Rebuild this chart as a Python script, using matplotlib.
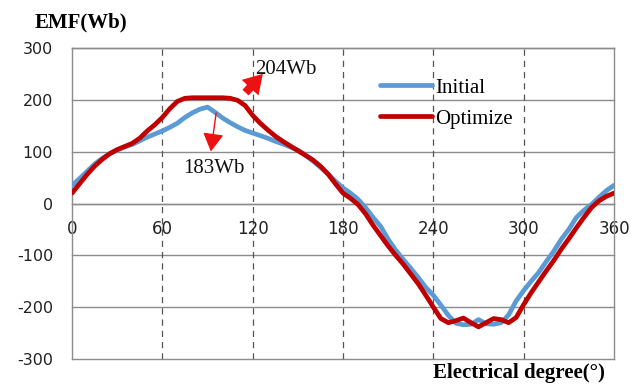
import matplotlib
matplotlib.use("Agg")
import matplotlib.pyplot as plt

plt.rcParams['axes.unicode_minus'] = False

# electrical degree (deg) and EMF (Wb)
degree = list(range(0, 361, 5))
initial = [35, 48, 62, 76, 87, 96, 103, 109, 114, 121, 128, 134, 140, 147, 155, 166,
           175, 182, 186, 176, 165, 156, 148, 141, 136, 131, 126, 120, 115, 109, 103,
           94, 82, 70, 57, 43, 30, 20, 8, -8, -27, -44, -69, -90, -108, -125, -143,
           -162, -177, -196, -216, -231, -234, -233, -224, -232, -233, -230, -215,
           -188, -168, -150, -133, -112, -92, -69, -50, -27, -13, -2, 12, 25, 35]
optimize = [20, 38, 56, 72, 85, 96, 104, 110, 116, 126, 140, 152, 166, 183, 197, 203,
            204, 204, 204, 204, 204, 203, 199, 189, 170, 155, 142, 130, 120, 111, 102,
            93, 84, 72, 57, 38, 20, 10, -2, -20, -42, -62, -82, -100, -117, -136, -155,
            -177, -200, -222, -230, -226, -221, -230, -238, -230, -222, -224, -230,
            -220, -195, -172, -151, -130, -110, -88, -68, -47, -27, -8, 5, 14, 20]

x_ticks = [0, 60, 120, 180, 240, 300, 360]
y_ticks = [-300, -200, -100, 0, 100, 200, 300]

fig = plt.figure(figsize=(6.41, 3.85), dpi=100)
ax = fig.add_axes([72 / 641, 26 / 385, 542 / 641, 311 / 385])

grid_gray = '#8c8c8c'
for y in y_ticks:
    ax.axhline(y, color=grid_gray, lw=1, zorder=1, clip_on=False)
for x in x_ticks[1:-1]:
    ax.axvline(x, color='#555555', lw=0.9, ls=(0, (5, 4)), zorder=1)

ax.plot(degree, initial, color='#5B9BD5', lw=3.4, label='Initial', zorder=3,
        solid_joinstyle='round', solid_capstyle='round')
ax.plot(degree, optimize, color='#C00000', lw=3.4, label='Optimize', zorder=4,
        solid_joinstyle='round', solid_capstyle='round')

ax.set_xlim(0, 360)
ax.set_ylim(-300, 300)
ax.set_xticks(x_ticks)
ax.set_yticks(y_ticks)
ax.spines['bottom'].set_position(('data', 0))
for s in ['bottom', 'top', 'left', 'right']:
    ax.spines[s].set_color(grid_gray)
    ax.spines[s].set_linewidth(1)
ax.tick_params(axis='x', length=0, pad=12, labelsize=12, labelcolor='#222222')
ax.tick_params(axis='y', length=0, pad=13.5, labelsize=11.5, labelcolor='#222222')

# peak annotations
ax.annotate('', xy=(92, 95), xytext=(96, 180),
            arrowprops=dict(arrowstyle='-|>,head_width=0.4,head_length=0.7',
                            color='#ee1111', lw=1, mutation_scale=16))
ax.text(94, 68, '183Wb', family='Liberation Serif', fontsize=15,
        ha='center', va='center', color='#111111')
ax.annotate('', xy=(128, 254), xytext=(114, 210),
            arrowprops=dict(arrowstyle='simple,head_width=1.1,head_length=0.9,tail_width=0.4',
                            color='#ee1111', lw=0, mutation_scale=15))
ax.text(121.5, 259, '204Wb', family='Liberation Serif', fontsize=15,
        ha='left', va='center', color='#111111')

ax.legend(loc='upper left', bbox_to_anchor=(380 / 641, 1 - 78 / 385),
          bbox_transform=fig.transFigure, frameon=False, borderpad=0,
          borderaxespad=0, handlelength=2.5, handletextpad=0.15,
          labelspacing=0.55, prop={'family': 'Liberation Serif', 'size': 15})

fig.text(35 / 641, 1 - 22 / 385, 'EMF(Wb)', family='Liberation Serif',
         fontsize=15, fontweight='bold', ha='left', va='center')
fig.text(433 / 641, 1 - 373 / 385, 'Electrical degree(°)', family='Liberation Serif',
         fontsize=15, fontweight='bold', ha='left', va='center')

fig.savefig('out.png', dpi=100)
